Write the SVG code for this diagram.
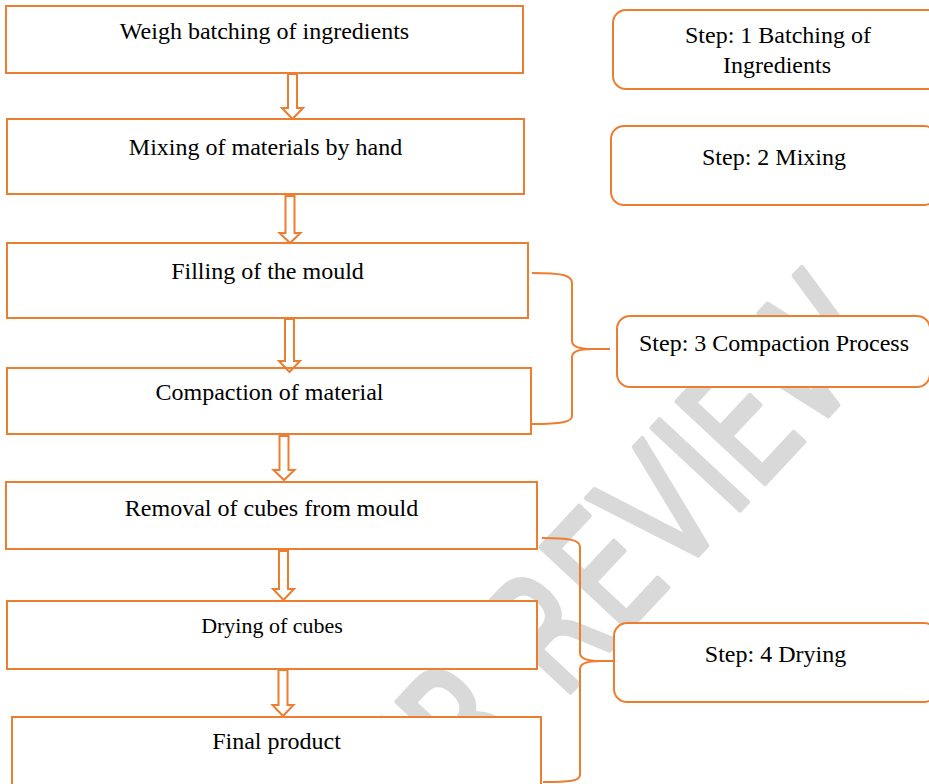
<svg xmlns="http://www.w3.org/2000/svg" width="929" height="784" viewBox="0 0 929 784">
<style>
.box{fill:#fff;stroke:#ED7D31;stroke-width:2}
.step{fill:#fff;stroke:#ED7D31;stroke-width:2}
.arr{fill:none;stroke:#ED7D31;stroke-width:2;stroke-linejoin:miter}
.br{fill:none;stroke:#ED7D31;stroke-width:2}
.t{font-family:"Liberation Serif","Times New Roman",serif;font-size:24px;fill:#000;text-anchor:middle}
.wm{font-family:"DejaVu Sans",sans-serif;font-size:165px;fill:#d9d9d9;stroke:#d9d9d9;stroke-width:5;stroke-linejoin:round}
</style>
<rect width="929" height="784" fill="#fff"/>
<g id="watermark">
<text class="wm" transform="translate(893,346) rotate(-47) scale(0.75,1)" text-anchor="end">PEER REVIEW</text>
</g>
<g id="n1"><rect class="box" x="6" y="6" width="517" height="67"/><text class="t" x="264.5" y="39">Weigh batching of ingredients</text></g>
<g id="n2"><rect class="box" x="7" y="119" width="517" height="75"/><text class="t" x="265.5" y="155">Mixing of materials by hand</text></g>
<g id="n3"><rect class="box" x="7" y="243" width="521" height="75"/><text class="t" x="267.5" y="279">Filling of the mould</text></g>
<g id="n4"><rect class="box" x="7" y="368" width="524" height="66"/><text class="t" x="269.5" y="400">Compaction of material</text></g>
<g id="n5"><rect class="box" x="6" y="482" width="531" height="67"/><text class="t" x="271.5" y="516">Removal of cubes from mould</text></g>
<g id="n6"><rect class="box" x="7" y="601" width="530" height="68"/><text class="t" x="272" y="633" style="font-size:22px">Drying of cubes</text></g>
<g id="n7"><rect class="box" x="12" y="717" width="529" height="70"/><text class="t" x="276.5" y="749">Final product</text></g>
<g id="s1"><rect class="step" x="613" y="10" width="330" height="79" rx="13"/><text class="t" x="778" y="43">Step: 1 Batching of</text><text class="t" x="777" y="73">Ingredients</text></g>
<g id="s2"><rect class="step" x="611" y="126" width="326" height="79" rx="13"/><text class="t" x="774" y="165">Step: 2 Mixing</text></g>
<g id="s3"><rect class="step" x="617" y="316" width="313" height="71" rx="13"/><text class="t" x="774" y="351">Step: 3 Compaction Process</text></g>
<g id="s4"><rect class="step" x="614" y="623" width="323" height="79" rx="13"/><text class="t" x="775.5" y="662">Step: 4 Drying</text></g>
<g id="connectors">
<polygon class="arr" points="288,74 297,74 297,108 303,108 292.5,119 282,108 288,108"/>
<polygon class="arr" points="285.5,196 294.5,196 294.5,233 300.5,233 290,243 279.5,233 285.5,233"/>
<polygon class="arr" points="285,319 294,319 294,361 300,361 289.5,372 279,361 285,361"/>
<polygon class="arr" points="279.5,436 288.5,436 288.5,470 294.5,470 284,480 273.5,470 279.5,470"/>
<polygon class="arr" points="279,551 288,551 288,589 294,589 283.5,600 273,589 279,589"/>
<polygon class="arr" points="278.5,670 287.5,670 287.5,705 293.5,705 283,716 272.5,705 278.5,705"/>
<path class="br" d="M532,273 C562,273 572,275 572,283 L572,341 C572,347 580,349 592,349 L610,349 M592,349 C580,349 572,351 572,357 L572,416 C572,422 562,424 532,424"/>
<path class="br" d="M542,538 C570,538 580,540 580,547 L580,653 C580,659 588,661 600,661 L614,661 M600,661 C588,661 580,663 580,669 L580,775 C580,781 570,782 543,782"/>
</g>
</svg>
